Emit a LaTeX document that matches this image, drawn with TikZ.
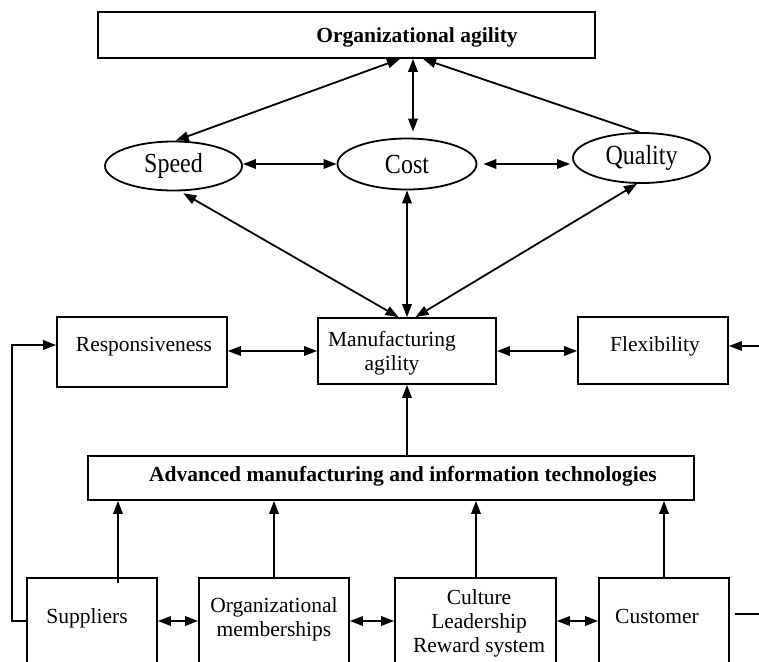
\documentclass[tikz,border=0pt]{standalone}
\usepackage{fontspec}
\usepackage{graphicx}
\setmainfont{Liberation Serif}
\usetikzlibrary{arrows.meta,shapes.geometric}
\newcommand{\tallword}[1]{\scalebox{1}[1.15]{#1}}
\begin{document}
\begin{tikzpicture}[x=1pt,y=-1pt,
  line width=1.8pt,
  tip/.tip={Triangle[length=13pt,width=9.5pt]},
  box/.style={draw,rectangle,inner sep=0pt},
  oval/.style={draw,ellipse,inner sep=0pt,font=\fontsize{24}{28}\selectfont},
  lbl/.style={inner sep=0pt,font=\fontsize{21.5}{24}\selectfont,align=center},
  blbl/.style={lbl,font=\fontsize{21.5}{24}\selectfont\bfseries},
  both/.style={{tip}-{tip}},
  to/.style={-{tip}}]
\useasboundingbox (0,0) rectangle (759,661);
\clip (0,0) rectangle (759,661);
\fill[white] (0,0) rectangle (759,661);

% top level
\node[box,minimum width=497pt,minimum height=46pt] (org) at (346.5,35) {};
\node[blbl] (orgT) at (417,37) {Organizational agility};

% performance measures
\node[oval,minimum width=137pt,minimum height=49pt] (speed) at (173.5,166) {\tallword{Speed}};
\node[oval,minimum width=139pt,minimum height=51pt] (cost) at (407,164) {\tallword{Cost}};
\node[oval,minimum width=137pt,minimum height=50pt] (quality) at (641.5,158) {\tallword{Quality}};

% middle row
\node[box,minimum width=170pt,minimum height=70pt] (resp) at (142,352) {};
\node[lbl] (respT) at (144,347) {Responsiveness};
\node[box,minimum width=178pt,minimum height=66pt] (manu) at (407,351) {};
\node[lbl] (manuT) at (392,353) {Manufacturing\\agility};
\node[box,minimum width=150pt,minimum height=67pt] (flex) at (653,350.5) {};
\node[lbl] (flexT) at (655,346) {Flexibility};

% technologies
\node[box,minimum width=606pt,minimum height=44pt] (tech) at (391,478) {};
\node[blbl] (techT) at (403,476) {Advanced manufacturing and information technologies};

% bottom row (runs past the lower edge)
\node[box,minimum width=130pt,minimum height=110pt] (sup) at (92,633) {};
\node[lbl] (supT) at (87,618) {Suppliers};
\node[box,minimum width=150pt,minimum height=110pt] (mem) at (274,633) {};
\node[lbl] (memT) at (274,619) {Organizational\\memberships};
\node[box,minimum width=161pt,minimum height=110pt] (cul) at (475.5,633) {};
\node[lbl] (culT) at (479,623) {Culture\\Leadership\\Reward system};
\node[box,minimum width=130pt,minimum height=110pt] (cus) at (664,633) {};
\node[lbl] (cusT) at (657,616) {Customer};

% measures and organizational agility
\draw[both] (speed.85) -- ([xshift=53.5pt]org.south);
\draw[both] ([xshift=66.5pt]org.south) -- ([xshift=6pt,yshift=6pt]cost.north);
\draw[to] (quality.95) -- ([xshift=76.5pt]org.south);
\draw[both] (speed.east |- cost.west) -- (cost.west);
\coordinate (cq) at ([xshift=6pt]cost.east);
\draw[both] (cq) -- ([xshift=-2pt]quality.west |- cq);

% measures and manufacturing agility
\draw[both] ([xshift=3pt,yshift=-2pt]speed.-75) -- ([xshift=-8.5pt]manu.north);
\draw[both] (cost.south) -- (manu.north);
\draw[both] (quality.-100) -- ([xshift=8.5pt]manu.north);

% middle row links
\draw[both] (resp.east |- manu.west) -- (manu.west);
\draw[both] (manu.east) -- (flex.west |- manu.east);
\coordinate (rin) at (759,346);
\draw[to] (rin) -- (flex.east |- rin);
\draw[to] (manu.south |- tech.north) -- (manu.south);

% bottom row up to technologies
\coordinate (supUp) at (118,583);
\draw[to] (supUp) -- (supUp |- tech.south);
\draw[to] (mem.north) -- (mem.north |- tech.south);
\draw[to] ([xshift=0.5pt]cul.north) -- ([xshift=0.5pt]cul.north |- tech.south);
\draw[to] (cus.north) -- (cus.north |- tech.south);

% bottom row side links
\coordinate (row) at (0,621);
\draw[both] (sup.east |- row) -- (mem.west |- row);
\draw[both] (mem.east |- row) -- (cul.west |- row);
\draw[both] (cul.east |- row) -- (cus.west |- row);
\coordinate (rout) at (759,614);
\draw ([xshift=5pt]cus.east |- rout) -- (rout);
\coordinate (lc) at (12,621);
\coordinate (lt) at (12,345);
\draw[to] (sup.west |- lc) -- (lc) -- (lt) -- (resp.west |- lt);
\end{tikzpicture}
\end{document}
